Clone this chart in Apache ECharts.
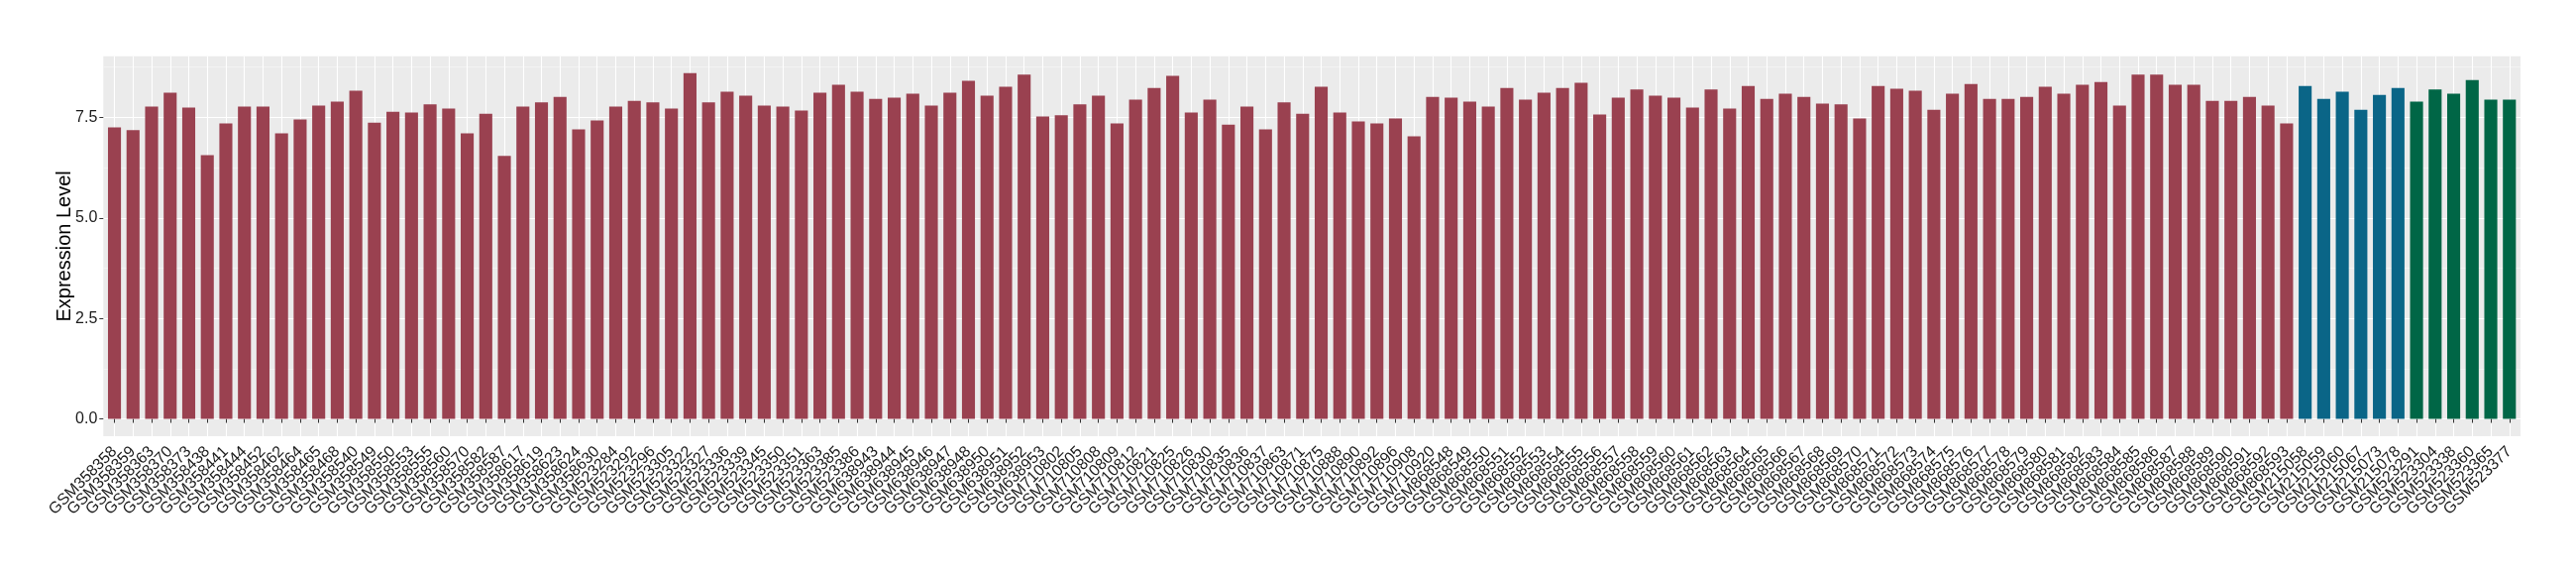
<!DOCTYPE html>
<html><head><meta charset="utf-8">
<script src="https://cdn.jsdelivr.net/npm/echarts@6/dist/echarts.min.js"></script>
<style>html,body{margin:0;padding:0;background:#fff}#c{width:2600px;height:580px}</style>
</head><body><div id="c"></div>
<script>
const categories = [
 'GSM358358','GSM358359','GSM358363','GSM358370','GSM358373','GSM358438','GSM358441','GSM358444','GSM358452','GSM358462',
 'GSM358464','GSM358465','GSM358468','GSM358540','GSM358549','GSM358550','GSM358553','GSM358555','GSM358560','GSM358570',
 'GSM358582','GSM358587','GSM358617','GSM358619','GSM358623','GSM358624','GSM358630','GSM523284','GSM523292','GSM523296',
 'GSM523305','GSM523322','GSM523327','GSM523336','GSM523339','GSM523345','GSM523350','GSM523351','GSM523363','GSM523385',
 'GSM523386','GSM638943','GSM638944','GSM638945','GSM638946','GSM638947','GSM638948','GSM638950','GSM638951','GSM638952',
 'GSM638953','GSM710802','GSM710805','GSM710808','GSM710809','GSM710812','GSM710821','GSM710825','GSM710826','GSM710830',
 'GSM710835','GSM710836','GSM710837','GSM710863','GSM710871','GSM710875','GSM710888','GSM710890','GSM710892','GSM710896',
 'GSM710908','GSM710920','GSM868548','GSM868549','GSM868550','GSM868551','GSM868552','GSM868553','GSM868554','GSM868555',
 'GSM868556','GSM868557','GSM868558','GSM868559','GSM868560','GSM868561','GSM868562','GSM868563','GSM868564','GSM868565',
 'GSM868566','GSM868567','GSM868568','GSM868569','GSM868570','GSM868571','GSM868572','GSM868573','GSM868574','GSM868575',
 'GSM868576','GSM868577','GSM868578','GSM868579','GSM868580','GSM868581','GSM868582','GSM868583','GSM868584','GSM868585',
 'GSM868586','GSM868587','GSM868588','GSM868589','GSM868590','GSM868591','GSM868592','GSM868593','GSM215058','GSM215059',
 'GSM215060','GSM215067','GSM215073','GSM215078','GSM523291','GSM523304','GSM523338','GSM523360','GSM523365','GSM523377'
];
const values = [
 7.25,7.18,7.77,8.11,7.74,6.56,7.35,7.77,7.77,7.10,
 7.45,7.79,7.89,8.16,7.37,7.64,7.62,7.82,7.72,7.10,
 7.59,6.54,7.77,7.87,8.01,7.20,7.42,7.77,7.91,7.87,
 7.72,8.60,7.87,8.14,8.04,7.79,7.77,7.67,8.11,8.31,
 8.14,7.96,7.99,8.09,7.79,8.11,8.41,8.04,8.26,8.56,
 7.52,7.55,7.82,8.04,7.35,7.94,8.23,8.53,7.62,7.94,
 7.32,7.77,7.20,7.87,7.59,8.26,7.62,7.40,7.35,7.47,
 7.03,8.01,7.99,7.89,7.77,8.23,7.94,8.11,8.23,8.36,
 7.57,7.99,8.19,8.04,7.99,7.74,8.19,7.72,8.28,7.96,
 8.09,8.01,7.84,7.82,7.47,8.28,8.21,8.16,7.69,8.09,
 8.33,7.96,7.96,8.01,8.26,8.09,8.31,8.38,7.79,8.56,
 8.56,8.31,8.31,7.91,7.91,8.01,7.79,7.35,8.28,7.96,
 8.14,7.69,8.06,8.23,7.89,8.19,8.09,8.43,7.94,7.94
];
// group of each sample (0 = red, 1 = blue, 2 = green), 10 per row
const groups = [
 0,0,0,0,0,0,0,0,0,0,
 0,0,0,0,0,0,0,0,0,0,
 0,0,0,0,0,0,0,0,0,0,
 0,0,0,0,0,0,0,0,0,0,
 0,0,0,0,0,0,0,0,0,0,
 0,0,0,0,0,0,0,0,0,0,
 0,0,0,0,0,0,0,0,0,0,
 0,0,0,0,0,0,0,0,0,0,
 0,0,0,0,0,0,0,0,0,0,
 0,0,0,0,0,0,0,0,0,0,
 0,0,0,0,0,0,0,0,0,0,
 0,0,0,0,0,0,0,0,1,1,
 1,1,1,1,2,2,2,2,2,2
];
const groupColors = ['#9A4150', '#0A6587', '#006646'];
const yMajorTicks = [0, 2.5, 5, 7.5];
const yMinorTicks = [1.25, 3.75, 6.25, 8.75];

const font = 'Liberation Sans, Arial, Helvetica, sans-serif';
const yMin = -0.43, yMax = 9.02;
// panel (ggplot) extents; bar grid is inset by 0.1 band on each side (ggplot's 0.6 expansion)
const panel = {left: 104.3, right: 56, top: 56.7, bottom: 140};
const band = (2600 - panel.left - panel.right) / (categories.length + 0.2);
const chart = echarts.init(document.getElementById('c'), null, {renderer: 'canvas'});
chart.setOption({
  animation: false,
  backgroundColor: '#ffffff',
  grid: [
    {left: panel.left + 0.1 * band, right: panel.right + 0.1 * band, top: panel.top, bottom: panel.bottom,
     show: false, containLabel: false, outerBoundsMode: 'none'},
    {left: panel.left, right: panel.right, top: panel.top, bottom: panel.bottom,
     show: true, backgroundColor: '#EBEBEB', borderWidth: 0, containLabel: false, outerBoundsMode: 'none'}
  ],
  xAxis: [{
    gridIndex: 0, type: 'category', data: categories, boundaryGap: true,
    axisLine: {show: false},
    axisTick: {show: true, alignWithLabel: true, interval: 0, length: 4, lineStyle: {color: '#333333', width: 1}},
    axisLabel: {show: true, interval: 0, rotate: 45, fontSize: 16, fontFamily: font, color: '#1a1a1a', margin: 13},
    splitLine: {show: true, alignWithLabel: true, interval: 0, lineStyle: {color: '#ffffff', width: 1.1}}
  }, {
    gridIndex: 1, type: 'value', min: 0, max: 1, show: false
  }],
  yAxis: [{
    gridIndex: 1, type: 'value', min: yMin, max: yMax,
    name: 'Expression Level', nameLocation: 'middle', nameGap: 29, nameMoveOverlap: false,
    nameTextStyle: {fontSize: 20, fontFamily: font, color: '#000000'},
    axisLine: {show: false},
    axisTick: {show: true, customValues: yMajorTicks, length: 4, lineStyle: {color: '#333333', width: 1}},
    axisLabel: {show: true, customValues: yMajorTicks, formatter: v => v.toFixed(1),
                showMinLabel: true, showMaxLabel: true,
                fontSize: 16, fontFamily: font, color: '#1a1a1a', margin: 6},
    splitLine: {show: true, lineStyle: {color: '#ffffff', width: 1.2}}
  }, {
    gridIndex: 1, type: 'value', min: yMin, max: yMax, position: 'left',
    axisLine: {show: false},
    axisTick: {show: false, customValues: yMinorTicks},
    axisLabel: {show: false, customValues: yMinorTicks},
    splitLine: {show: true, lineStyle: {color: '#F7F7F7', width: 0.7}}
  }, {
    gridIndex: 0, type: 'value', min: yMin, max: yMax, show: false, splitLine: {show: false}
  }],
  series: [{
    type: 'bar',
    xAxisIndex: 0, yAxisIndex: 2,
    barWidth: '70%',
    data: values.map((v, i) => ({value: v, itemStyle: {color: groupColors[groups[i]]}}))
  }]
});
</script></body></html>
